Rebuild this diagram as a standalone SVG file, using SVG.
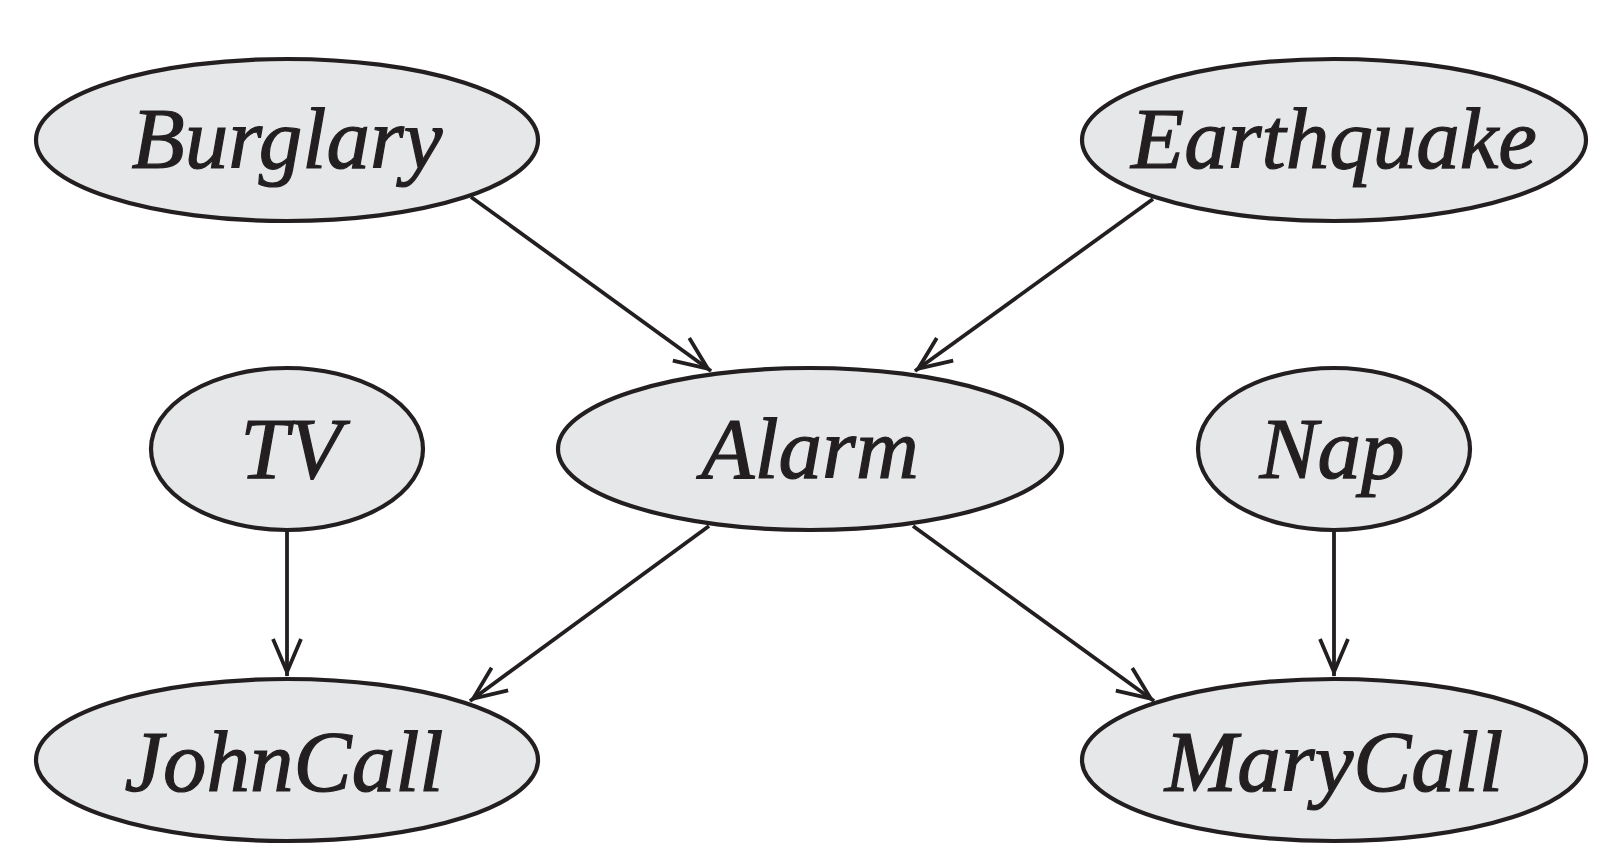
<svg xmlns="http://www.w3.org/2000/svg" width="1612" height="864" viewBox="0 0 1612 864">
<style>
.node ellipse{fill:#e6e7e8;stroke:#231f20;stroke-width:4.2}
.node text{font-family:"Liberation Serif","Times New Roman",serif;font-style:italic;font-size:87px;fill:#231f20;stroke:#231f20;stroke-width:1.2;text-anchor:middle}
.edges line{stroke:#231f20;stroke-width:3.8;fill:none}
</style>
<defs>
<marker id="arr" markerUnits="userSpaceOnUse" markerWidth="48" markerHeight="48" refX="38" refY="24" orient="auto" viewBox="0 0 48 48">
<path d="M1,10 L34,24 L1,38" fill="none" stroke="#231f20" stroke-width="3.8" stroke-linejoin="miter" stroke-miterlimit="10"/>
</marker>
</defs>
<g class="edges">
<line x1="471" y1="197" x2="711" y2="371" marker-end="url(#arr)"/>
<line x1="1153" y1="199" x2="915" y2="371" marker-end="url(#arr)"/>
<line x1="287" y1="530" x2="287" y2="676" marker-end="url(#arr)"/>
<line x1="709" y1="526" x2="470" y2="701" marker-end="url(#arr)"/>
<line x1="913" y1="526" x2="1154" y2="701" marker-end="url(#arr)"/>
<line x1="1334" y1="530" x2="1334" y2="676" marker-end="url(#arr)"/>
</g>
<g id="burglary" class="node"><ellipse cx="287" cy="140" rx="251" ry="81"/><text x="287" y="168">Burglary</text></g>
<g id="earthquake" class="node"><ellipse cx="1334" cy="140" rx="252" ry="81"/><text x="1334" y="168">Earthquake</text></g>
<g id="tv" class="node"><ellipse cx="287" cy="449" rx="136" ry="81"/><text x="291" y="478">TV</text></g>
<g id="alarm" class="node"><ellipse cx="810" cy="449" rx="252" ry="81"/><text x="810" y="478">Alarm</text></g>
<g id="nap" class="node"><ellipse cx="1334" cy="449" rx="136" ry="81"/><text x="1332" y="478">Nap</text></g>
<g id="johncall" class="node"><ellipse cx="287" cy="760" rx="251" ry="81"/><text x="284" y="791">JohnCall</text></g>
<g id="marycall" class="node"><ellipse cx="1334" cy="760" rx="252" ry="81"/><text x="1334" y="791">MaryCall</text></g>
</svg>
